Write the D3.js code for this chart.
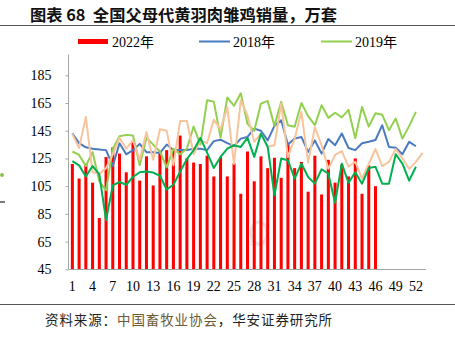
<!DOCTYPE html>
<html><head><meta charset="utf-8">
<script src="https://cdn.jsdelivr.net/npm/d3@7"></script>
<style>body{margin:0;background:#fff}svg{display:block}</style>
</head><body>
<script>
const weeks = d3.range(1, 54);
const xTickLabels = [1,4,7,10,13,16,19,22,25,28,31,34,37,40,43,46,49,52];
const yTicks = [45,65,85,105,125,145,165,185];
const s2022 = [121,110.5,121,107.5,82,126,133,128.5,115,136.5,109,126.5,105.5,130,131,132,141.5,125,122,121,127,112,126,112,121.5,99.5,130,108.5,126.5,118,125.5,111,135.5,118,122.5,101,127,99,124,107.5,120.5,112,125,99.5,120,105];
const s2018 = [143,136,133,132,131.5,131,119.5,136,128,131,135.5,129.5,129.5,129,135,131,131,131,132,132,131,137.5,138.5,136,134,139.3,140.5,146.5,145,138,148.5,152.5,135,139.3,140.5,129.7,138,128.5,139,134.5,143,132.5,131,136,137,138.3,149,133.3,132.7,128,137,133.8];
const s2019 = [130,127.5,119.5,129.5,108.5,102,132,141,142,141.5,120,140,135,130,118.5,132,128,132,148,135,167,166,140,169,163,172,150,145,164.6,166.5,148.5,165.8,149,147.8,165,155.5,149,163.4,154.3,158,154.6,160,139.6,162.2,148,157.6,156.5,145.4,153.8,139.3,148.3,158.6];
const s2020 = [142.5,132.5,155,115,114,118,128,140,132,138,124,144,124,146,145,120,152,152,128,138,136,153,146,162,121,167,156,137,143,133.5,134.5,164.6,126,139.3,158.6,122,147.5,134.5,117.5,127.5,130.3,119,122.5,110.5,121,131.8,119.5,122.5,131.8,125,117.5,122.5,129];
const s2021 = [123,120,112,119.5,113.5,80.5,105.6,108,106,111.6,115,115.5,114.8,112.5,102.6,106,115.5,124.5,130.9,139.8,129.2,118.1,126.1,132.1,134.5,133.3,139.8,126.1,142.9,133.3,98.4,124.9,123.7,110.4,121.3,111.6,106.8,117.2,114,93,121.2,107.4,115,106.8,118,119,106.8,106.8,128,121.3,109,119];
const legendNames = ["2022年","2018年","2019年"];
const titleText = "图表 68  全国父母代黄羽肉雏鸡销量，万套";
const srcA = "资料来源：", srcB = "中国畜牧业协会", srcC = "，华安证券研究所";

const W = 455, H = 340;
const svg = d3.select("body").append("svg").attr("width", W).attr("height", H);
svg.append("rect").attr("width", W).attr("height", H).attr("fill", "#fff");

const serif = "'Liberation Serif','Times New Roman','Noto Sans CJK SC',serif";
const cjk = "'Noto Sans CJK SC','Noto Sans',sans-serif";

// title
svg.append("text").attr("x", 30).attr("y", 21).attr("font-family", cjk)
  .attr("font-weight", "bold").attr("font-size", 16.3).attr("fill", "#111")
  .attr("xml:space", "preserve").text(titleText);
svg.append("line").attr("x1", 0).attr("x2", W).attr("y1", 25.5).attr("y2", 25.5)
  .attr("stroke", "#555").attr("stroke-width", 1);

const x = d3.scaleBand().domain(weeks).range([69, 426]).paddingInner(0).paddingOuter(0);
const y = d3.scaleLinear().domain([45, 200]).range([269.3, 54.5]);
const cx = d => x(d) + x.bandwidth() / 2;

// watermark
const wm = svg.append("g").attr("opacity", 0.55);
wm.append("ellipse").attr("cx", 259).attr("cy", 233).attr("rx", 8).attr("ry", 11)
  .attr("fill", "none").attr("stroke", "#c5d6cc").attr("stroke-width", 3);
wm.append("text").attr("x", 259).attr("y", 245).attr("text-anchor", "middle")
  .attr("font-size", 5).attr("font-family", cjk).attr("fill", "#c5d6cc").text("华安证券");

// bars
const bw = x.bandwidth() * 0.45;
svg.append("g").selectAll("rect").data(s2022).join("rect")
  .attr("x", (d, i) => cx(weeks[i]) - bw / 2)
  .attr("y", d => y(d))
  .attr("width", bw)
  .attr("height", d => y(45) - y(d))
  .attr("fill", "#ff0000");

// lines
const series = [
  {v: s2018, c: "#4a7ac0"},
  {v: s2019, c: "#92d050"},
  {v: s2020, c: "#f8c49c"},
  {v: s2021, c: "#00b04f"}
];
const line = d3.line().x((d, i) => cx(weeks[i])).y(d => y(d));
series.forEach(s => {
  svg.append("path").datum(s.v).attr("d", line).attr("fill", "none")
    .attr("stroke", s.c).attr("stroke-width", 2).attr("stroke-linejoin", "round");
});

// axes
const yAxis = d3.axisLeft(y).tickValues(yTicks).tickSize(3).tickPadding(14).tickFormat(d3.format("d"));
const gy = svg.append("g").attr("transform", "translate(68.5,0)").call(yAxis);
gy.select(".domain").attr("stroke", "#a6a6a6").attr("d", "M0,54.5V269.3");
gy.selectAll(".tick line").attr("stroke", "#a6a6a6");
gy.selectAll(".tick text").attr("font-family", serif).attr("font-size", 14).attr("fill", "#000");

const xAxis = d3.axisBottom(x).tickValues(xTickLabels).tickSize(0).tickPadding(12);
const gx = svg.append("g").attr("transform", "translate(0,269.5)").call(xAxis);
gx.select(".domain").attr("stroke", "#a6a6a6").attr("d", "M68.5,0H426");
gx.selectAll(".tick text").attr("font-family", serif).attr("font-size", 14).attr("fill", "#000");

// legend
const lg = svg.append("g").attr("font-family", serif).attr("font-size", 14);
lg.append("rect").attr("x", 78).attr("y", 39).attr("width", 30).attr("height", 5).attr("fill", "#ff0000");
lg.append("text").attr("x", 112).attr("y", 46.5).text(legendNames[0]);
lg.append("line").attr("x1", 199).attr("x2", 230).attr("y1", 41.5).attr("y2", 41.5).attr("stroke", "#4a7ac0").attr("stroke-width", 2);
lg.append("text").attr("x", 233).attr("y", 46.5).text(legendNames[1]);
lg.append("line").attr("x1", 321).attr("x2", 352).attr("y1", 41.5).attr("y2", 41.5).attr("stroke", "#92d050").attr("stroke-width", 2);
lg.append("text").attr("x", 355).attr("y", 46.5).text(legendNames[2]);

// left artifacts
svg.append("circle").attr("cx", 2).attr("cy", 175).attr("r", 2).attr("fill", "#8cc152");
svg.append("line").attr("x1", 0).attr("x2", 5).attr("y1", 202).attr("y2", 202).attr("stroke", "#222").attr("stroke-width", 1.2);

// footer
svg.append("line").attr("x1", 0).attr("x2", W).attr("y1", 304.5).attr("y2", 304.5)
  .attr("stroke", "#555").attr("stroke-width", 1);
const ft = svg.append("text").attr("x", 45).attr("y", 325).attr("font-family", cjk)
  .attr("font-size", 13.5).attr("letter-spacing", 0.9);
ft.append("tspan").attr("fill", "#222").text(srcA);
ft.append("tspan").attr("fill", "#6b5a33").text(srcB);
ft.append("tspan").attr("fill", "#222").text(srcC);
</script>
</body></html>
